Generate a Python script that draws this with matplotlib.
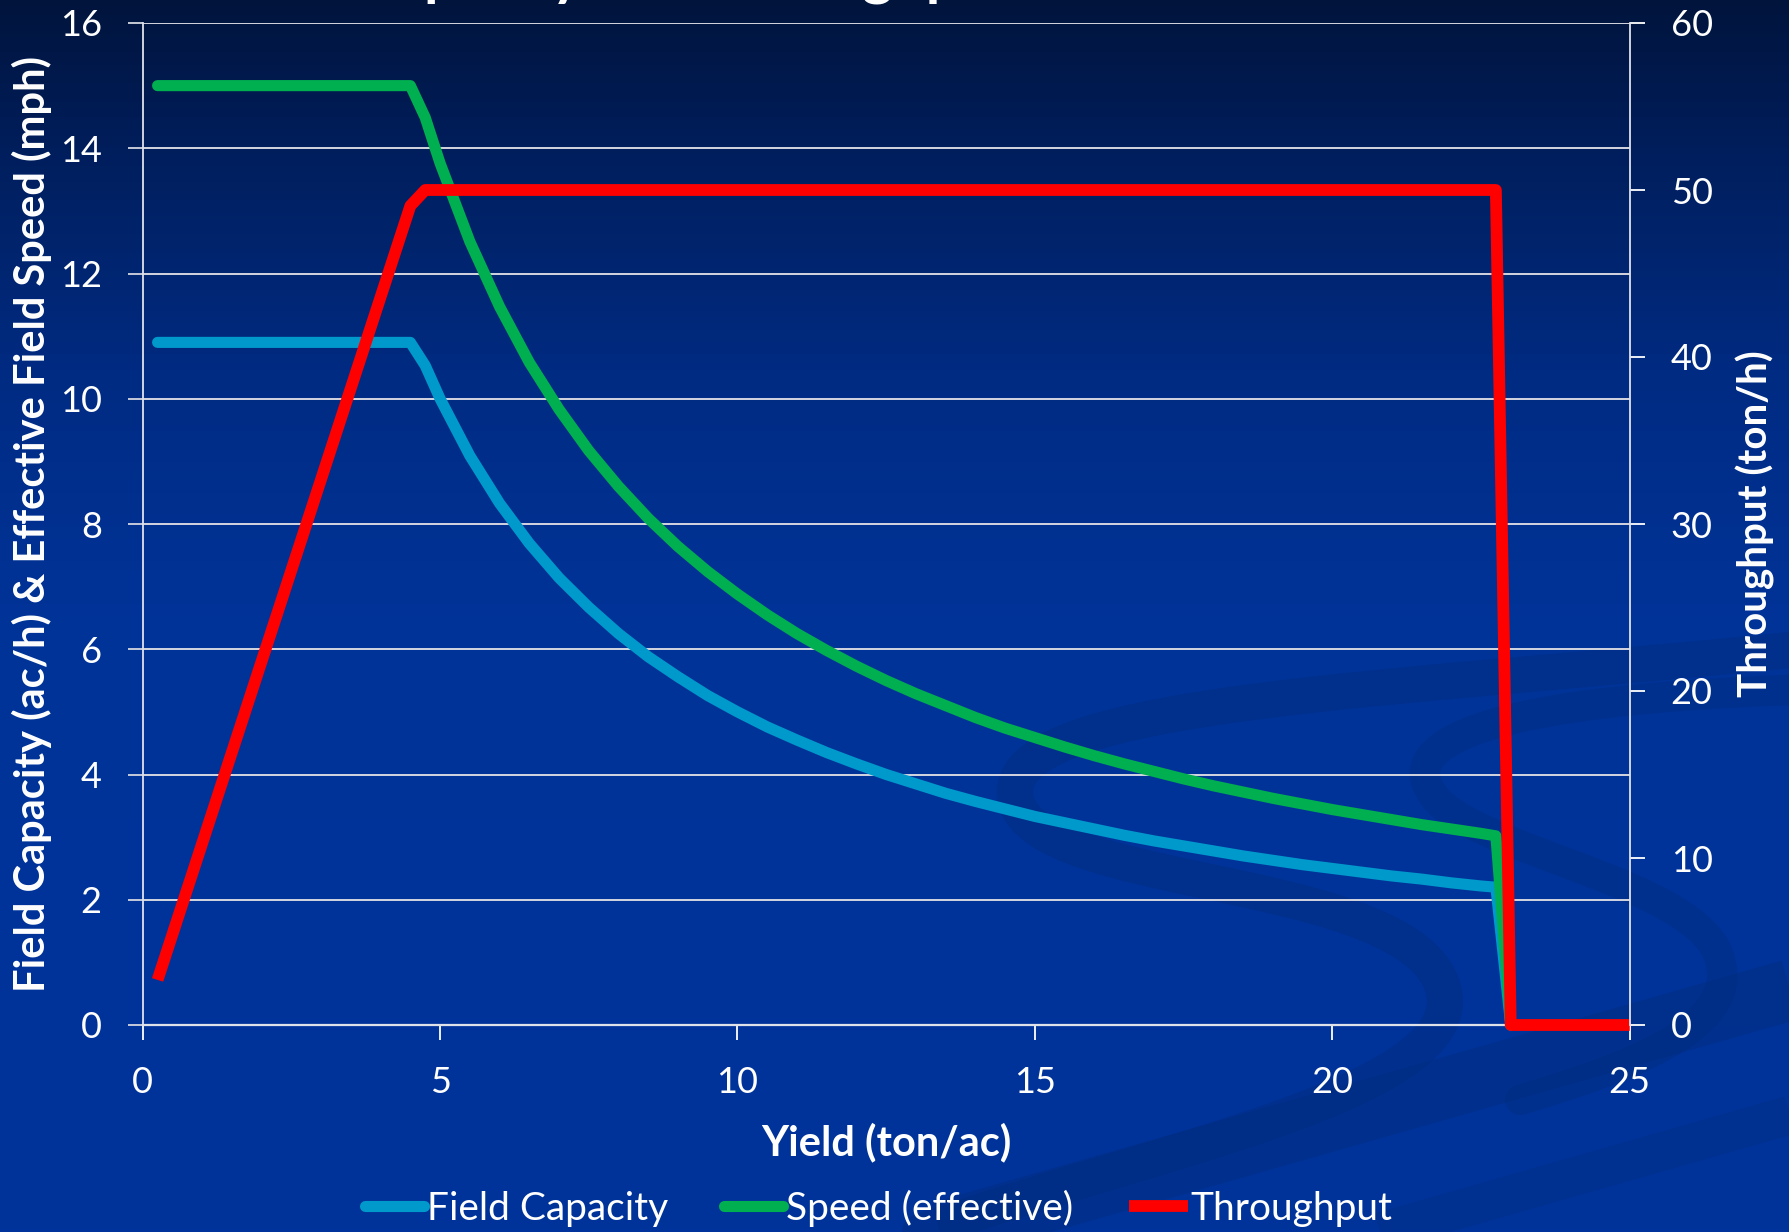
import matplotlib.pyplot as plt
import numpy as np
from matplotlib.path import Path
from matplotlib.patches import PathPatch

plt.rcParams['font.family'] = ['Lato', 'DejaVu Sans']

# yield points for the capacity / speed curves (ton/ac)
yield_ton_ac = [0.25, 0.5, 1, 1.5, 2, 2.5, 3, 3.5, 4, 4.5, 4.75,
                5, 5.5, 6, 6.5, 7, 7.5, 8, 8.5, 9, 9.5, 10, 10.5, 11, 11.5,
                12, 12.5, 13, 13.5, 14, 14.5, 15, 15.5, 16, 16.5, 17, 17.5,
                18, 18.5, 19, 19.5, 20, 20.5, 21, 21.5, 22, 22.5, 22.75, 23]

# field capacity (ac/h)
field_capacity = [10.9] * 10 + [10.53,
                  10.0, 9.09, 8.33, 7.69, 7.14, 6.67, 6.25, 5.88, 5.56, 5.26,
                  5.0, 4.76, 4.55, 4.35, 4.17, 4.0, 3.85, 3.7, 3.57, 3.45,
                  3.33, 3.23, 3.13, 3.03, 2.94, 2.86, 2.78, 2.7, 2.63, 2.56,
                  2.5, 2.44, 2.38, 2.33, 2.27, 2.22, 2.2, 0]

# effective field speed (mph)
speed_effective = [15.0] * 10 + [14.49,
                   13.76, 12.51, 11.47, 10.58, 9.83, 9.17, 8.6, 8.09, 7.64, 7.24,
                   6.88, 6.55, 6.25, 5.98, 5.73, 5.5, 5.29, 5.1, 4.91, 4.74,
                   4.59, 4.44, 4.3, 4.17, 4.05, 3.93, 3.82, 3.72, 3.62, 3.53,
                   3.44, 3.36, 3.28, 3.2, 3.13, 3.06, 3.02, 0]

# throughput (ton/h)
throughput_yield = [0.25, 4.5, 4.75, 22.75, 23, 25]
throughput = [2.7, 49.05, 50, 50, 0, 0]

W, H = 1790, 1232
fig = plt.figure(figsize=(W / 100, H / 100), dpi=100)

# slide background: dark navy at the top fading into royal blue
bg = fig.add_axes([0, 0, 1, 1], zorder=0)
bg.set_xlim(0, W)
bg.set_ylim(H, 0)
bg.axis('off')
stops_y = [0.0, 0.12, 0.3, 0.5, 1.0]
stops_c = np.array([[0, 20, 60], [0, 30, 92], [0, 43, 130], [0, 51, 152], [0, 51, 155]]) / 255
yy = np.linspace(0, 1, 400)
grad = np.stack([np.interp(yy, stops_y, stops_c[:, k]) for k in range(3)], axis=-1)
bg.imshow(grad[:, None, :], extent=[0, W, H, 0], aspect='auto')

# faint swooshes in the lower right corner
swoosh = (0.0, 0.17, 0.48)
curves = [
    ([(1790, 650), (1400, 690), (1020, 700), (1015, 790), (1010, 890), (1390, 870),
      (1440, 980), (1490, 1090), (1150, 1150), (920, 1232)], 26, 0.4),
    ([(1790, 690), (1500, 700), (1400, 740), (1430, 790), (1460, 850), (1700, 880),
      (1720, 960), (1740, 1030), (1620, 1070), (1520, 1100)], 22, 0.35),
]
for pts, lw, al in curves:
    codes = [Path.MOVETO] + [Path.CURVE4] * (len(pts) - 1)
    bg.add_patch(PathPatch(Path(pts, codes), fill=False, edgecolor=swoosh,
                           lw=lw, alpha=al, capstyle='round'))
bg.plot([940, 1790], [1232, 990], color=swoosh, lw=44, alpha=0.4, solid_capstyle='butt')
bg.plot([1380, 1790], [1232, 1115], color=swoosh, lw=28, alpha=0.3, solid_capstyle='butt')

# slide title, mostly above the visible area
fig.text(215 / W, 1 + 7 / H, 'Field Capacity and Throughput', color='white',
         fontsize=42, fontweight='bold', ha='left', va='baseline')

ax = fig.add_axes([142.7 / W, 1 - 1025 / H, 1487 / W, 1002 / H], zorder=1)
ax.patch.set_visible(False)
ax2 = ax.twinx()

blue, = ax.plot(yield_ton_ac, field_capacity, color='#0099CC', lw=8,
                solid_capstyle='round', solid_joinstyle='round', clip_on=False,
                label='Field Capacity')
green, = ax.plot(yield_ton_ac, speed_effective, color='#00B050', lw=8,
                 solid_capstyle='round', solid_joinstyle='round', clip_on=False,
                 label='Speed (effective)')
red, = ax2.plot(throughput_yield, throughput, color='#FF0000', lw=8.5,
                solid_capstyle='butt', solid_joinstyle='round', clip_on=False,
                label='Throughput')

ax.set_xlim(0, 25)
ax.set_ylim(0, 16)
ax2.set_ylim(0, 60)
ax.set_xticks(np.arange(0, 26, 5))
ax.set_yticks(np.arange(0, 17, 2))
ax2.set_yticks(np.arange(0, 61, 10))

ax.set_axisbelow(True)
ax.grid(axis='y', color='#d4d6e0', lw=1.4)
ax.grid(axis='x', visible=False)

for a in (ax, ax2):
    for s in a.spines.values():
        s.set_visible(False)
ax.spines['left'].set_visible(True)
ax.spines['left'].set_color('#e0e2ea')
ax.spines['left'].set_linewidth(1.3)
ax.spines['bottom'].set_visible(True)
ax.spines['bottom'].set_color('#e0e2ea')
ax.spines['bottom'].set_linewidth(1.6)
ax2.spines['right'].set_visible(True)
ax2.spines['right'].set_color('#e0e2ea')
ax2.spines['right'].set_linewidth(1.3)

tick_kw = dict(colors='white', labelcolor='white', labelsize=26, length=10.5,
               width=1.3, pad=19, direction='out')
ax.tick_params(axis='both', **tick_kw)
ax2.tick_params(axis='y', **tick_kw)
ax.tick_params(axis='y', color='#d4d6e0')

ax.set_xlabel('Yield (ton/ac)', va='center', color='white', fontsize=30, fontweight='bold')
ax.xaxis.set_label_coords(0.5, (1025 - 1142) / 1002)
ax.set_ylabel('Field Capacity (ac/h) & Effective Field Speed (mph)', va='center',
              color='white', fontsize=30, fontweight='bold')
ax.yaxis.set_label_coords((32 - 142.7) / 1487, 0.5)
ax2.set_ylabel('Throughput (ton/h)', va='center', rotation=90,
               color='white', fontsize=29, fontweight='bold')
ax2.yaxis.set_label_coords((1755 - 142.7) / 1487, 0.5)

leg = fig.legend([blue, green, red], ['Field Capacity', 'Speed (effective)', 'Throughput'],
                 loc='center', bbox_to_anchor=(879 / W, 1 - 1208 / H), ncol=3,
                 frameon=False, fontsize=28, handlelength=1.5, handletextpad=0.08,
                 columnspacing=1.45, labelcolor='white')

fig.savefig('out.png', dpi=100)
